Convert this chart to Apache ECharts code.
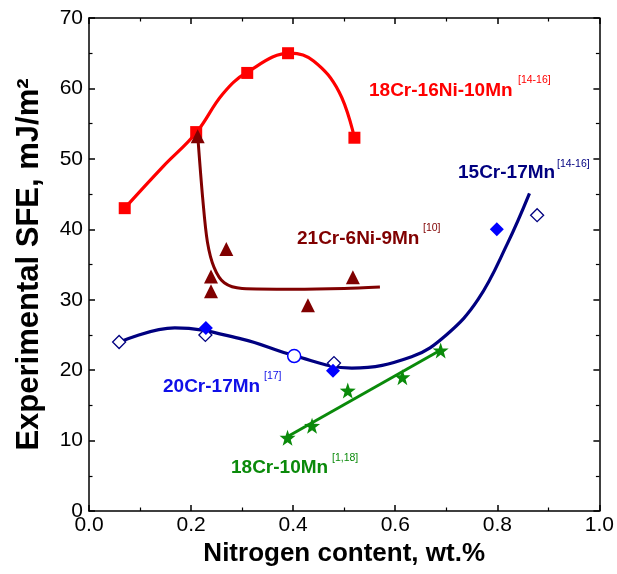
<!DOCTYPE html>
<html>
<head>
<meta charset="utf-8">
<script src="https://cdn.jsdelivr.net/npm/echarts@6/dist/echarts.min.js"></script>
<style>
  html, body { margin: 0; padding: 0; background: #fff; }
  #chart { width: 617px; height: 574px; }
</style>
</head>
<body>
<div id="chart"></div>
<script>
// Axis ticks
const xTicks = [0.0, 0.2, 0.4, 0.6, 0.8, 1.0];
const yTicks = [0, 10, 20, 30, 40, 50, 60, 70];

// 18Cr-16Ni-10Mn: measured points and fitted curve
const crNiMn18_16_10 = [[0.07, 43], [0.21, 53.8], [0.31, 62.2], [0.39, 65], [0.52, 53]];
const crNiMn18_16_10Fit = [[0.07, 43], [0.145, 48.9], [0.21, 53.7], [0.262, 59.2],
  [0.31, 62.3], [0.395, 65], [0.44, 63.9], [0.49, 59.5], [0.52, 53]];

// 21Cr-6Ni-9Mn
const crNiMn21_6_9 = [[0.213, 53.2], [0.239, 33.3], [0.239, 31.2], [0.269, 37.2], [0.429, 29.2], [0.517, 33.2]];
const crNiMn21_6_9Fit = [[0.213, 53.3], [0.223, 44.2], [0.232, 38.2], [0.245, 34.6],
  [0.265, 32.4], [0.30, 31.6], [0.40, 31.5], [0.50, 31.6], [0.57, 31.8]];

// 15Cr-17Mn (open diamonds) and 20Cr-17Mn (filled diamonds), plus one open circle
const crMn15_17Open = [[0.059, 24.0], [0.228, 25.0], [0.48, 21.0], [0.878, 42.0]];
const crMn20_17Filled = [[0.229, 26.0], [0.478, 19.9], [0.799, 40.0]];
const crMnCircle = [[0.402, 22.0]];
const crMnFit = [[0.06, 24.0], [0.168, 26.0], [0.30, 24.4], [0.40, 22.1],
  [0.515, 20.3], [0.632, 21.9], [0.70, 25.0], [0.762, 30.0], [0.82, 38.0], [0.863, 45.1]];

// 18Cr-10Mn
const crMn18_10 = [[0.389, 10.4], [0.437, 12.1], [0.507, 17.1], [0.614, 19.0], [0.689, 22.8]];
const crMn18_10Fit = [[0.385, 10.4], [0.69, 22.9]];

const STAR = 'path://M0,-10L2.35,-3.24L9.51,-3.09L3.8,1.24L5.88,8.09L0,4L-5.88,8.09L-3.8,1.24L-9.51,-3.09L-2.35,-3.24Z';

const RED = '#ff0000', MAROON = '#800000', NAVY = '#000080', BLUE = '#0000ff', GREEN = '#0a8a0a';
const FONT = '"Liberation Sans", Arial, sans-serif';

const chart = echarts.init(document.getElementById('chart'), null, { renderer: 'canvas' });

const axisCommon = {
  axisLine: { show: true, onZero: false, lineStyle: { color: '#000', width: 1.5 } },
  axisTick: { show: true, inside: true, length: 6, lineStyle: { color: '#000', width: 1.5 } },
  minorTick: { show: true, splitNumber: 2, length: 3.5, lineStyle: { color: '#000', width: 1.2 } },
  splitLine: { show: false },
  minorSplitLine: { show: false }
};

function fitLine(data, color, width, smooth) {
  return {
    type: 'line', data, smooth: smooth, symbol: 'none',
    lineStyle: { color, width }, z: 2, silent: true
  };
}
function marks(data, symbol, size, fill, border, bw) {
  return {
    type: 'scatter', data, symbol, symbolSize: size, z: 3, silent: true,
    itemStyle: { color: fill, borderColor: border, borderWidth: bw || 0, opacity: 1 }
  };
}

function label(x, y, text, sx, sy, sup, color) {
  return [
    { type: 'text', x, y, style: { text, fill: color, font: 'bold 19px ' + FONT, textVerticalAlign: 'middle' } },
    { type: 'text', x: sx, y: sy, style: { text: sup, fill: color, font: '10.5px ' + FONT, textVerticalAlign: 'middle' } }
  ];
}

chart.setOption({
  animation: false,
  backgroundColor: '#fff',
  grid: { left: 89, right: 15, top: 18, bottom: 63 },
  xAxis: [
    Object.assign({
      type: 'value', min: 0, max: 1, interval: 0.2, position: 'bottom',
      name: 'Nitrogen content, wt.%', nameLocation: 'middle', nameGap: 28,
      nameTextStyle: { fontFamily: FONT, fontWeight: 'bold', fontSize: 26, color: '#000' },
      axisLabel: { fontFamily: FONT, fontSize: 21, color: '#000', margin: 4,
        formatter: v => xTicks.includes(+v.toFixed(1)) ? v.toFixed(1) : '' }
    }, axisCommon),
    Object.assign({
      type: 'value', min: 0, max: 1, interval: 0.2, position: 'top', axisLabel: { show: false }
    }, axisCommon)
  ],
  yAxis: [
    Object.assign({
      type: 'value', min: 0, max: 70, interval: 10, position: 'left',
      name: 'Experimental SFE, mJ/m\u00B2', nameLocation: 'middle', nameGap: 44,
      nameTextStyle: { fontFamily: FONT, fontWeight: 'bold', fontSize: 31, color: '#000' },
      axisLabel: { fontFamily: FONT, fontSize: 21, color: '#000', margin: 6,
        formatter: v => yTicks.includes(v) ? String(v) : '' }
    }, axisCommon),
    Object.assign({
      type: 'value', min: 0, max: 70, interval: 10, position: 'right', axisLabel: { show: false }
    }, axisCommon)
  ],
  series: [
    fitLine(crNiMn18_16_10Fit, RED, 3.2, 0.4),
    fitLine(crNiMn21_6_9Fit, MAROON, 3, 0.3),
    fitLine(crMnFit, NAVY, 3.2, 0.4),
    fitLine(crMn18_10Fit, GREEN, 3, false),
    marks(crNiMn18_16_10, 'rect', 12, RED),
    marks(crNiMn21_6_9, 'triangle', 14, MAROON),
    marks(crMn15_17Open, 'diamond', 13, '#fff', NAVY, 1.3),
    marks(crMn20_17Filled, 'diamond', 14, BLUE),
    marks(crMnCircle, 'circle', 13, '#fff', BLUE, 1.5),
    marks(crMn18_10, STAR, 16, GREEN)
  ],
  graphic: [].concat(
    label(369, 91, '18Cr-16Ni-10Mn', 518, 80, '[14-16]', RED),
    label(297, 239, '21Cr-6Ni-9Mn', 423, 228, '[10]', MAROON),
    label(458, 173, '15Cr-17Mn', 557, 164, '[14-16]', NAVY),
    label(163, 387, '20Cr-17Mn', 264, 376, '[17]', '#1010e8'),
    label(231, 468, '18Cr-10Mn', 332, 458, '[1,18]', GREEN)
  )
});
</script>
</body>
</html>
